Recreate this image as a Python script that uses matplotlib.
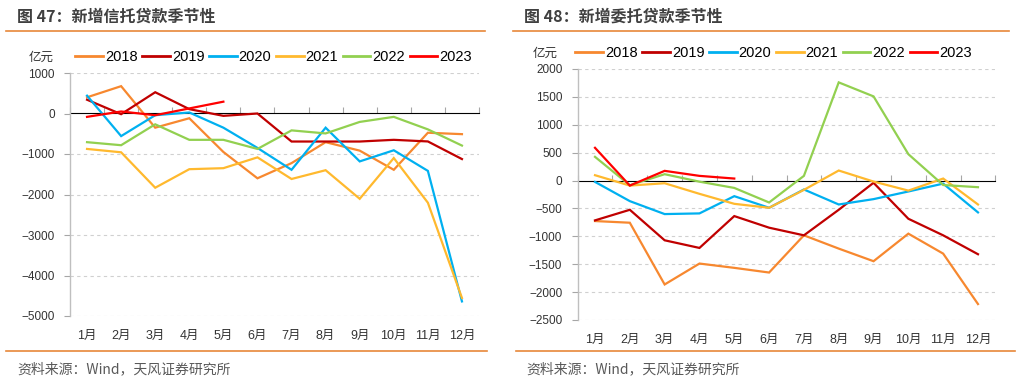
import matplotlib
matplotlib.use("Agg")
import matplotlib.pyplot as plt
from matplotlib.lines import Line2D

plt.rcParams['font.family'] = ['Liberation Sans', 'Noto Sans CJK SC', 'DejaVu Sans']
plt.rcParams['axes.unicode_minus'] = True

months = ["1月", "2月", "3月", "4月", "5月", "6月", "7月", "8月", "9月", "10月", "11月", "12月"]
years = ["2018", "2019", "2020", "2021", "2022", "2023"]
colors = ["#F7882F", "#C00000", "#00B0F0", "#FFB92E", "#92D050", "#FF0000"]

# 新增信托贷款 (亿元)
trust_2018 = [400, 675, -350, -117, -950, -1600, -1225, -708, -917, -1390, -475, -510]
trust_2019 = [340, -17, 525, 108, -58, 0, -692, -692, -692, -650, -690, -1125]
trust_2020 = [440, -558, -42, 25, -350, -850, -1390, -350, -1183, -908, -1417, -4640]
trust_2021 = [-875, -958, -1833, -1375, -1350, -1083, -1617, -1400, -2106, -1100, -2203, -4555]
trust_2022 = [-708, -783, -267, -650, -650, -875, -417, -492, -208, -83, -392, -792]
trust_2023 = [-83, 50, -42, 125, 292]

# 新增委托贷款 (亿元)
entr_2018 = [-726, -756, -1863, -1488, -1565, -1649, -982, -1220, -1446, -952, -1310, -2214]
entr_2019 = [-714, -524, -1071, -1208, -637, -845, -982, -524, -40, -685, -982, -1321]
entr_2020 = [-24, -369, -601, -589, -280, -488, -160, -429, -333, -196, -55, -571]
entr_2021 = [96, -90, -48, -238, -417, -488, -167, 180, -18, -180, 36, -429]
entr_2022 = [425, -84, 114, -20, -132, -393, 84, 1760, 1509, 473, -80, -119]
entr_2023 = [587, -90, 174, 84, 36]

W, H = 1018, 383
fig = plt.figure(figsize=(W / 100, H / 100), dpi=100)


def px(x, y):
    return x / W, 1 - y / H


def draw_panel(rect, series, ymin, ymax, step, title, title_x, line_x, foot_x, foot_line, unit_x, unit_y, leg_x, leg_y):
    x0, x1, ytop, ybot = rect
    ax = fig.add_axes([x0 / W, 1 - ybot / H, (x1 - x0) / W, (ybot - ytop) / H])
    xs = list(range(1, 13))
    for vals, c, lab in zip(series, colors, years):
        ax.plot(xs[:len(vals)], vals, color=c, lw=1.6, label=lab, solid_joinstyle='miter')
    ax.set_xlim(0.5, 12.5)
    ax.set_ylim(ymin, ymax)
    yt = list(range(ymin, ymax + 1, step))
    ax.set_yticks(yt)
    ax.set_yticklabels([f"{v}".replace("-", "\u2212") for v in yt])
    for v in yt:
        if v != 0:
            ax.axhline(v, color="#D0D0D0", lw=0.8, ls=(0, (3, 3)), zorder=0)
    ax.set_xticks(xs)
    ax.set_xticklabels(months)
    ax.tick_params(axis='x', length=0, pad=10, labelsize=9, colors="#333333")
    ax.tick_params(axis='y', length=4, width=0.8, color="#A6A6A6", pad=7, labelsize=8.5, labelcolor="#333333")
    for s in ['top', 'right', 'bottom']:
        ax.spines[s].set_visible(False)
    ax.spines['left'].set_color("#BFBFBF")
    ax.spines['left'].set_linewidth(1)

    # category axis sits on the zero line
    zero_pos = (0 - ymin) / (ymax - ymin)
    sec = ax.secondary_xaxis(zero_pos)
    sec.set_xticks([i + 0.5 for i in range(0, 13)])
    sec.set_xticklabels([])
    sec.tick_params(length=4, width=0.8, color="#A6A6A6", direction='out')
    sec.spines['bottom'].set_color("#A6A6A6")
    sec.spines['bottom'].set_linewidth(1)

    # legend and unit label
    handles = [Line2D([], [], color=c, lw=2) for c in colors]
    ax.legend(handles, years, ncol=6, loc='center left', bbox_to_anchor=px(leg_x, leg_y),
              bbox_transform=fig.transFigure, frameon=False, fontsize=10.5,
              handlelength=1.9, handletextpad=0.15, columnspacing=0.3,
              borderaxespad=0, borderpad=0)
    fig.text(*px(unit_x, unit_y), "亿元", fontsize=9, color="#333333",
             family=['Noto Sans CJK SC'], va='center', ha='left')

    # title, rules, source
    fig.text(*px(title_x, 17), title, fontsize=11.5, fontweight='bold', color="#404040",
             family=['Noto Sans CJK SC', 'Liberation Sans'], va='center', ha='left')
    fig.add_artist(Line2D([line_x[0] / W, line_x[1] / W], [1 - 31 / H] * 2, color="#E8873A", lw=1.2))
    fig.add_artist(Line2D([foot_line[0] / W, foot_line[1] / W], [1 - 351 / H] * 2, color="#E8873A", lw=1.2))
    fig.text(*px(foot_x, 369), "资料来源：Wind，天风证券研究所", fontsize=10, color="#595959",
             family=['Noto Sans CJK SC'], va='center', ha='left')
    return ax


draw_panel((70, 479, 73, 316),
           [trust_2018, trust_2019, trust_2020, trust_2021, trust_2022, trust_2023],
           -5000, 1000, 1000, "图 47：新增信托贷款季节性", 17, (6, 485), 17, (6, 487),
           29, 57, 75, 57)

draw_panel((577.6, 995.4, 69, 320),
           [entr_2018, entr_2019, entr_2020, entr_2021, entr_2022, entr_2023],
           -2500, 2000, 500, "图 48：新增委托贷款季节性", 524, (513, 1009), 526, (516, 1015),
           533, 53, 575, 53)

fig.savefig("out.png", dpi=100)
